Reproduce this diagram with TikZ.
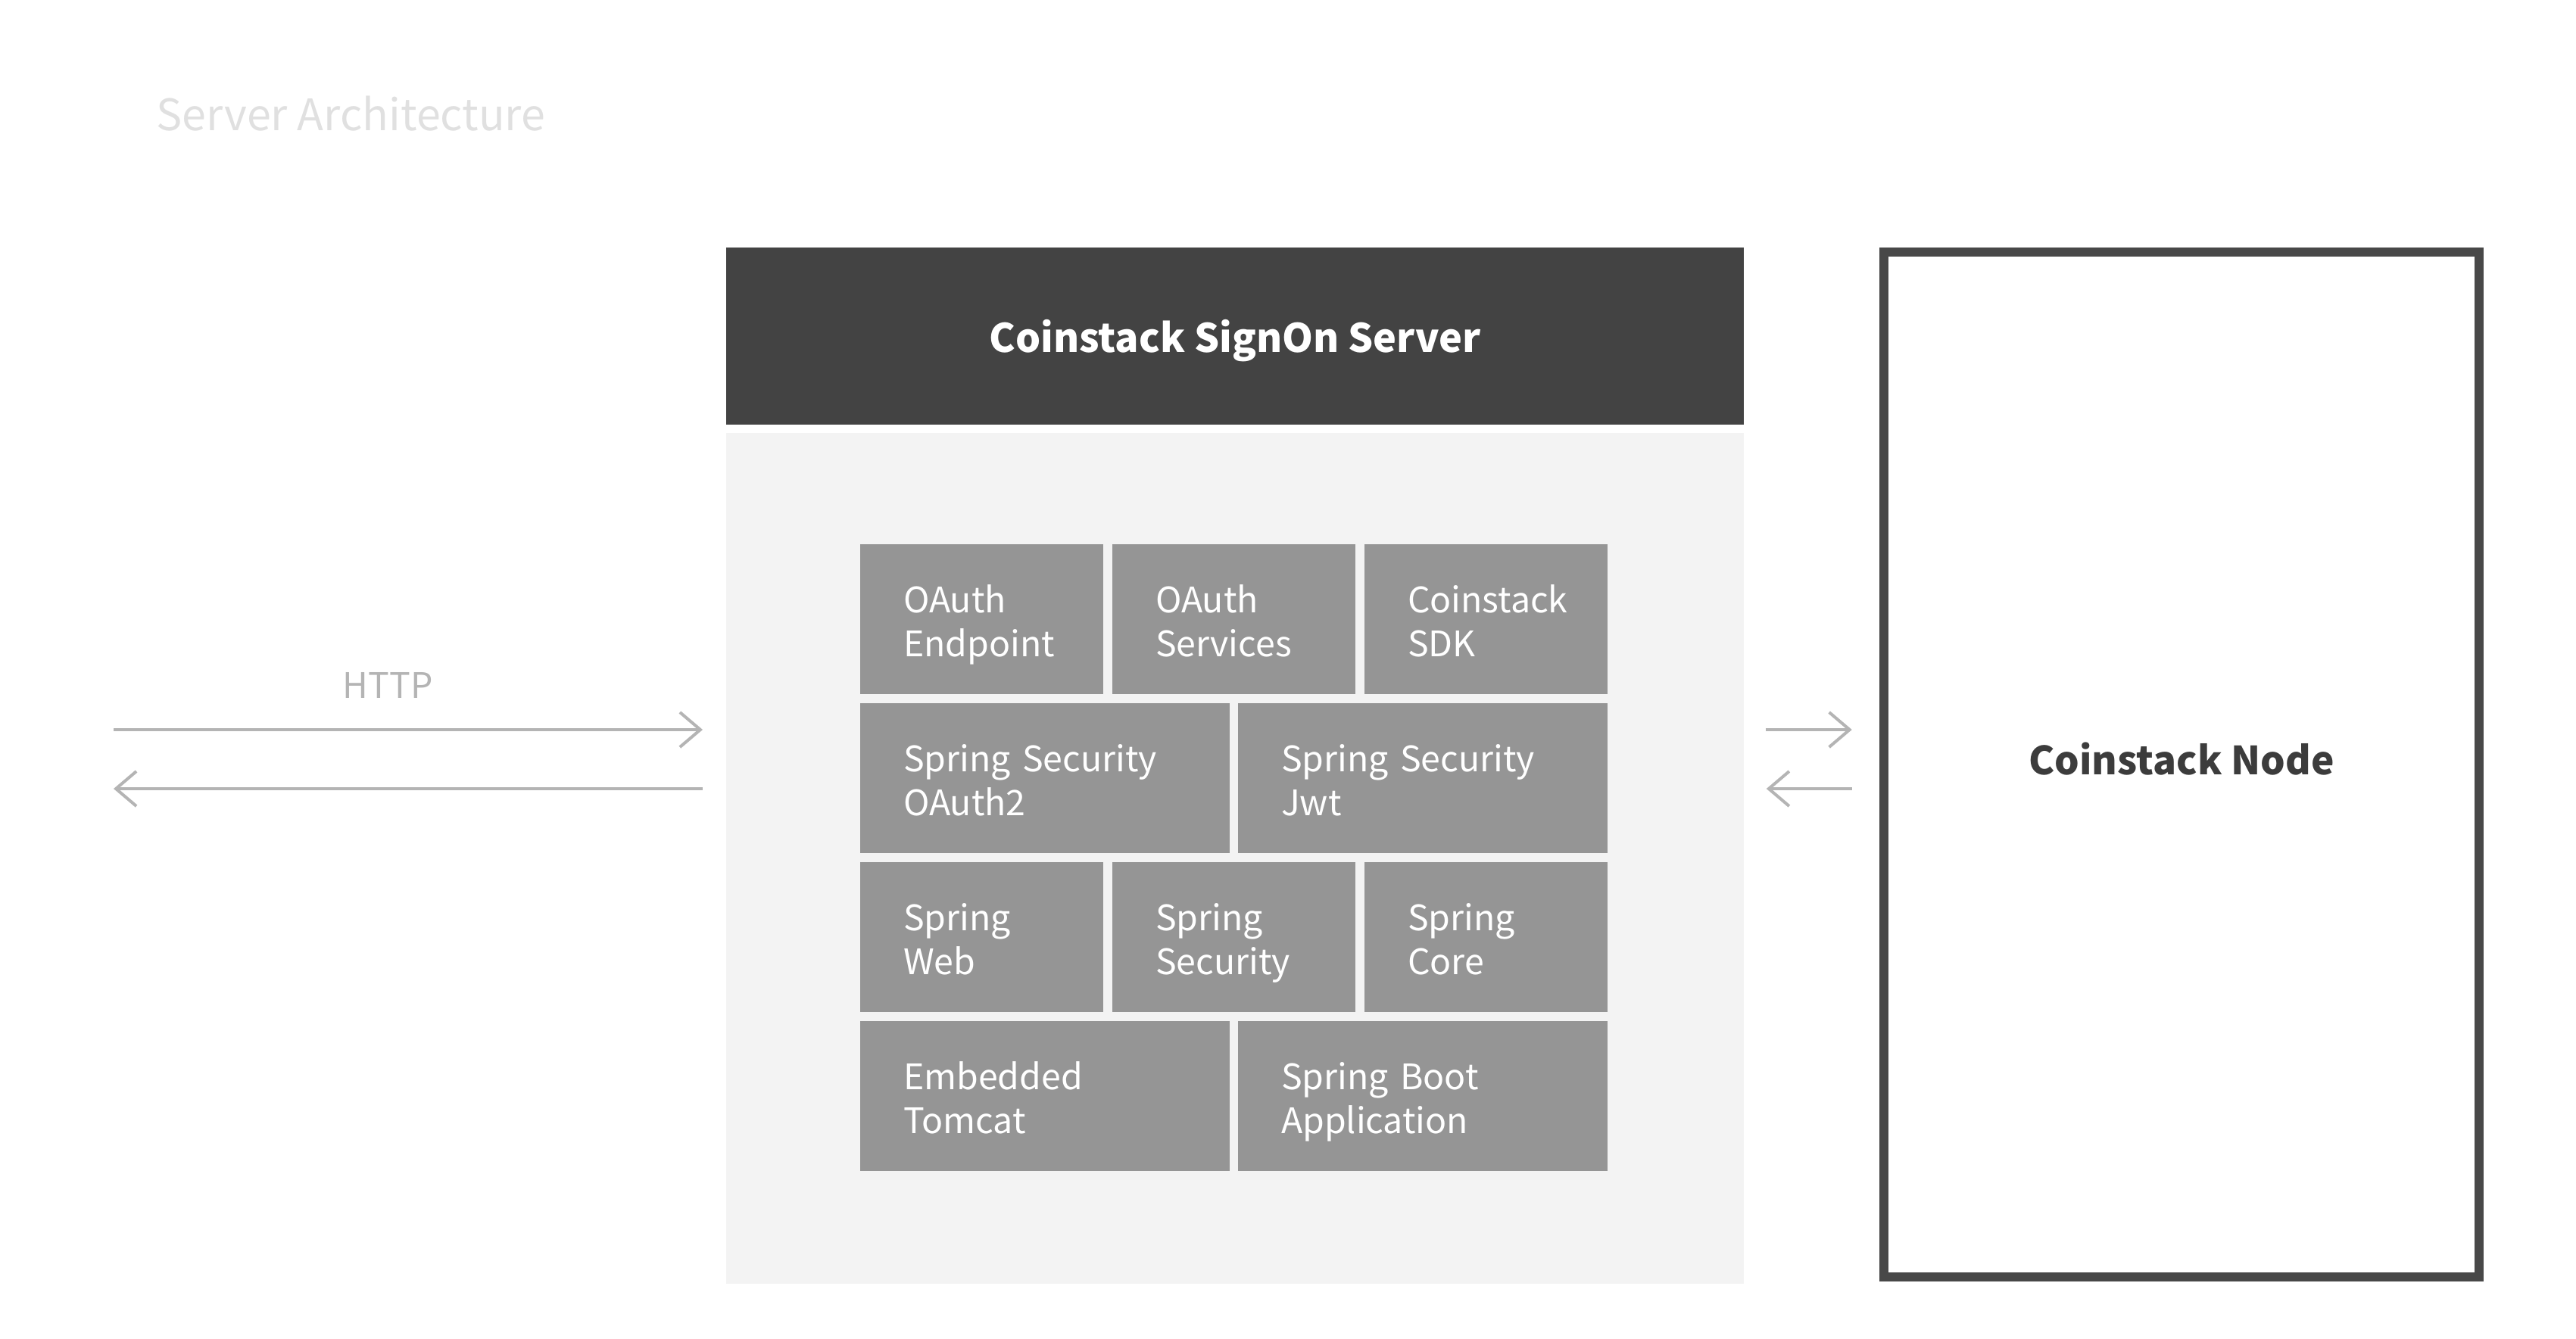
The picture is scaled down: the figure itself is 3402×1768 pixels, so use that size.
\documentclass[tikz,border=0pt]{standalone}
\usepackage{fontspec}
\setmainfont{Noto Sans CJK KR}
\usepackage{tikz}
\usetikzlibrary{arrows.meta}
\definecolor{hdrgray}{HTML}{434343}
\definecolor{panelgray}{HTML}{F3F3F3}
\definecolor{tilegray}{HTML}{959595}
\definecolor{nodeline}{HTML}{484848}
\definecolor{nodetext}{HTML}{3C3C3C}
\definecolor{flowgray}{HTML}{B4B4B4}
\definecolor{titlegray}{HTML}{E0E0E0}

\begin{document}
\begin{tikzpicture}[x=0.01cm, y=-0.01cm,
    tile/.style={fill=tilegray, text=white, anchor=north west, align=left,
        minimum height=1.98cm, inner xsep=0.57cm, inner ysep=0pt, outer sep=0pt,
        text height=0.40cm, text depth=0.58cm,
        font=\fontsize{13.2}{16.5}\selectfont},
    narrow/.style={tile, text width=2.07cm},
    wide/.style={tile, text width=3.74cm},
    flow/.style={draw=flowgray, line width=0.04cm,
        -{Straight Barb[length=0.27cm, width=0.46cm]}}]
    % Canvas
    \useasboundingbox (0,0) rectangle (3402,1768);

    % Title
    \node[text=titlegray, anchor=base west, inner sep=0pt,
        font=\fontsize{16.3}{19}\selectfont] (title) at (206,172) {Server Architecture};

    % Server header and body
    \node[fill=hdrgray, text=white, anchor=north west, outer sep=0pt,
        minimum width=13.43cm, minimum height=2.34cm, text depth=0pt,
        font=\bfseries\fontsize{14.8}{18}\selectfont] (hdr) at (959,327) {Coinstack SignOn Server};
    \node[fill=panelgray, anchor=north west, outer sep=0pt,
        minimum width=13.43cm, minimum height=11.23cm] (srv) at (959,572) {};

    % Module stack
    \node[narrow] (oaEnd) at (1136,719) {OAuth\\Endpoint};
    \node[narrow] (oaSvc) at (1469,719) {OAuth\\Services};
    \node[narrow] (csSdk) at (1802,719) {Coinstack\\SDK};
    \node[wide] (ssOa) at (1136,929) {Spring Security\\OAuth2};
    \node[wide] (ssJwt) at (1635,929) {Spring Security\\Jwt};
    \node[narrow] (spWeb) at (1136,1139) {Spring\\Web};
    \node[narrow] (spSec) at (1469,1139) {Spring\\Security};
    \node[narrow] (spCore) at (1802,1139) {Spring\\Core};
    \node[wide] (tomcat) at (1136,1349) {Embedded\\Tomcat};
    \node[wide] (boot) at (1635,1349) {Spring Boot\\Application};

    % Coinstack node
    \node[draw=nodeline, line width=0.12cm, text=nodetext,
        minimum width=7.86cm, minimum height=13.54cm, text depth=0.16cm,
        font=\bfseries\fontsize{14.6}{18}\selectfont] (cnode) at (2881,1010) {Coinstack Node};

    % HTTP traffic
    \coordinate (cliOut) at (150,964);
    \coordinate (cliIn) at (150,1042);
    \node[text=flowgray, anchor=base, font=\fontsize{13.2}{16}\selectfont] (http) at (512,922) {HTTP};
    \draw[flow, shorten >=0.31cm] (cliOut) -- (srv.west |- cliOut);
    \draw[flow, shorten <=0.31cm] (srv.west |- cliIn) -- (cliIn);

    % Node traffic
    \draw[flow, shorten <=0.29cm, shorten >=0.36cm] (srv.east |- cliOut) -- (cnode.west |- cliOut);
    \draw[flow, shorten <=0.36cm, shorten >=0.30cm] (cnode.west |- cliIn) -- (srv.east |- cliIn);
\end{tikzpicture}
\end{document}
